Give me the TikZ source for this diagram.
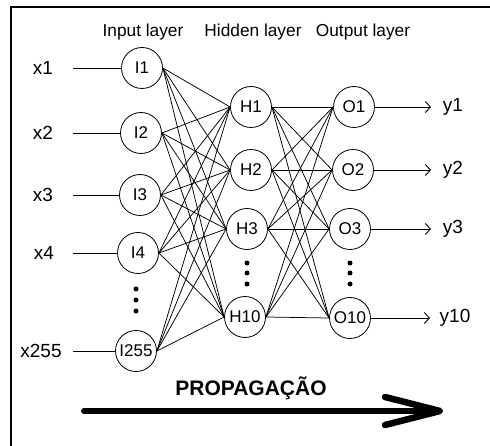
\documentclass[tikz,border=0pt]{standalone}
\usepackage{fontspec}
\setmainfont{Liberation Sans}
\usetikzlibrary{arrows.meta}
\begin{document}
\begin{tikzpicture}[x=1pt,y=-1pt,
  neuron/.style={draw,circle,line width=0.8pt,minimum size=41pt,inner sep=0pt,font=\fontsize{17}{17}\selectfont},
  xlab/.style={font=\fontsize{19}{19}\selectfont,inner sep=0pt},
  title/.style={font=\fontsize{17.3}{17}\selectfont,inner sep=0pt},
  conn/.style={line width=0.75pt},
  dotc/.style={fill,circle,inner sep=0pt,minimum size=5pt},
  outarrow/.style={line width=0.8pt,-{Straight Barb[length=5pt,width=11pt,line width=0.9pt]}}]
\useasboundingbox (0,0) rectangle (490,446);
% frame
\draw[line width=2pt] (11,446) -- (11,7) -- (490,7);
% titles
\node[title] (tin) at (143,32) {Input layer};
\node[title] (thid) at (253,32) {Hidden layer};
\node[title] (tout) at (363,32) {Output layer};
% input neurons
\node[neuron] (I1) at (142,68) {I1};
\node[neuron] (I2) at (141,133) {I2};
\node[neuron] (I3) at (140,195) {I3};
\node[neuron] (I4) at (138,253) {I4};
\node[neuron] (I255) at (136,351) {I255};
% hidden
\node[neuron] (H1) at (251,107) {H1};
\node[neuron] (H2) at (251,170) {H2};
\node[neuron] (H3) at (247,229) {H3};
\node[neuron] (H10) at (245,317) {H10};
% output
\node[neuron] (O1) at (354,107) {O1};
\node[neuron] (O2) at (353,170) {O2};
\node[neuron] (O3) at (350,229) {O3};
\node[neuron] (O10) at (350,318) {O10};
% dots
\node[dotc] (di1) at (136,289) {};
\node[dotc] (di2) at (136,300) {};
\node[dotc] (di3) at (136,311) {};
\node[dotc] (dh1) at (247,263) {};
\node[dotc] (dh2) at (247,273) {};
\node[dotc] (dh3) at (247,284) {};
\node[dotc] (do1) at (350,263) {};
\node[dotc] (do2) at (350,273) {};
\node[dotc] (do3) at (350,284) {};
% input labels
\node[xlab] (x1) at (43,68) {x1};
\node[xlab] (x2) at (43,133) {x2};
\node[xlab] (x3) at (43,195) {x3};
\node[xlab] (x4) at (44,253) {x4};
\node[xlab] (x255) at (41,351) {x255};
\coordinate (s1) at (73,68);
\coordinate (s2) at (73,133);
\coordinate (s3) at (73,195);
\coordinate (s4) at (73,253);
\coordinate (s255) at (73,351);
\foreach \n in {1,2,3,4,255} \draw[conn] (s\n) -- (I\n.west);
% output labels
\node[xlab] (y1) at (453,107) {y1};
\node[xlab] (y2) at (453,170) {y2};
\node[xlab] (y3) at (453,229) {y3};
\node[xlab] (y10) at (455,318) {y10};
\coordinate (e1) at (431,107);
\coordinate (e2) at (431,170);
\coordinate (e3) at (431,229);
\coordinate (e10) at (430,318);
\foreach \n in {1,2,3,10} \draw[outarrow] (O\n.east) -- (e\n);
% full connections
\foreach \i in {1,2,3,4,255} \foreach \h in {1,2,3,10} \draw[conn] (I\i.east) -- (H\h.west);
\foreach \h in {1,2,3,10} \foreach \o in {1,2,3,10} \draw[conn] (H\h.east) -- (O\o.west);
% propagation
\node[font=\fontsize{21}{22}\bfseries\selectfont,anchor=base,inner sep=0pt] (prop) at (251,395) {PROPAGAÇÃO};
\coordinate (pa) at (84,411);
\coordinate (pb) at (440,411);
\coordinate (pt1) at (385,397);
\coordinate (pt2) at (385,425);
\draw[line width=6pt,line cap=round] (pa) -- (pb);
\draw[line width=6.5pt,line cap=round,line join=miter,miter limit=4] (pt1) -- (pb) -- (pt2);
\end{tikzpicture}
\end{document}
